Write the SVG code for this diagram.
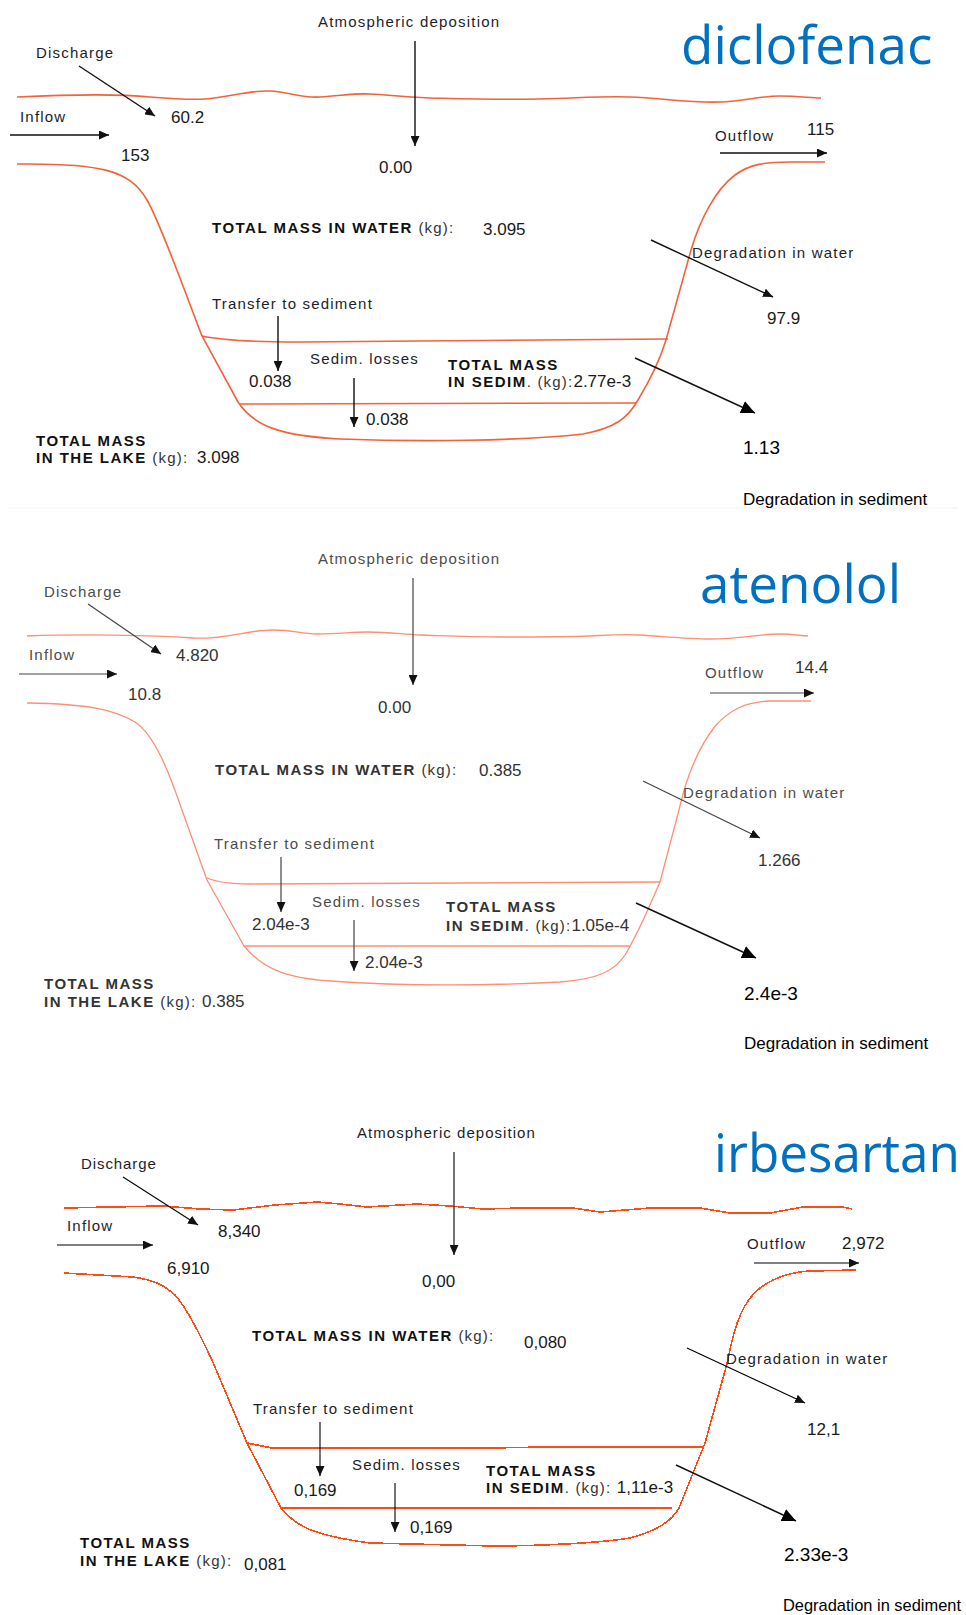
<svg xmlns="http://www.w3.org/2000/svg" width="966" height="1615" viewBox="0 0 966 1615">
<defs>
<style>
text{font-family:"Liberation Sans",Arial,sans-serif;}
.lbl{font-size:15px;letter-spacing:1.2px;fill:#1d1d2b}
.num{font-size:17px;letter-spacing:0;fill:#1a1a1a}
.b{font-weight:bold;font-size:15px;letter-spacing:1.5px;fill:#111}
.u{font-weight:normal;fill:#333;letter-spacing:1.2px}
.n{font-weight:normal;font-size:17px;letter-spacing:0;fill:#1a1a1a}
.big{font-size:19px;letter-spacing:0;fill:#000}
.dsed{font-size:17px;letter-spacing:0;fill:#000}
.title{font-family:"Open Sans","Noto Sans",sans-serif;font-size:53px;fill:#0070C0}
.p2 .lbl{fill:#4c4c4c}
.p2 .b{fill:#333}
.p2 .num,.p2 .n{fill:#333}
.bank{fill:none;stroke:#f4623a;stroke-width:1.6}
.bank2{fill:none;stroke:#ff8e74;stroke-width:1.3}
.bank3{fill:none;stroke:#ff4a12;stroke-width:1.6}
.arr{fill:none;stroke:#111;stroke-width:1.4}
.arr2{fill:none;stroke:#444;stroke-width:1.2}
.arr3{fill:none;stroke:#000;stroke-width:1.1}
</style>
<marker id="ah" markerUnits="userSpaceOnUse" markerWidth="11" markerHeight="9" refX="10" refY="4.5" orient="auto" viewBox="0 0 11 9"><path d="M0,0 L10,4.5 L0,9 z" fill="#111"/></marker>
<marker id="ahL" markerUnits="userSpaceOnUse" markerWidth="15" markerHeight="13" refX="14" refY="6.5" orient="auto" viewBox="0 0 15 13"><path d="M0,0 L14,6.5 L0,13 z" fill="#000"/></marker>
</defs>
<rect width="966" height="1615" fill="#fff"/>
<line x1="8" y1="508" x2="958" y2="508" stroke="#efefef" stroke-width="1"/>

<!-- ===== Panel 1: diclofenac ===== -->
<g id="panel-diclofenac">
<g id="lake1">
<path class="bank" d="M17,97 C60,95 120,94 150,97 C175,99 190,100 205,99 C230,97 250,90 270,91 C290,92 300,98 320,97 C340,96 355,93 370,94 C390,95 400,97 430,98 C470,99 500,100 540,99 C580,98 600,96 630,97 C660,98 690,103 720,102 C745,101 760,96 780,96 C800,96 810,98 821,98"/>
<path class="bank" d="M17,164 C100,163 130,170 147,200 C160,222 185,292 202,336 L238,402 C255,428 285,436 340,439 C420,442 520,441 583,434 C615,428 628,418 638,400 C650,380 660,360 666,340 L691,250 C700,220 715,190 735,175 C750,164 765,162 790,162 L825,162"/>
<path class="bank" d="M202,336 Q230,342 300,342 L668,339"/>
<path class="bank" d="M240,404 L636,403"/>
</g>
<text id="t1-title" class="title" x="681" y="64">diclofenac</text>
<text id="t1-atm" class="lbl" x="318" y="27">Atmospheric deposition</text>
<text id="t1-dis" class="lbl" x="36" y="58">Discharge</text>
<text id="t1-inf" class="lbl" x="20" y="122">Inflow</text>
<text class="num" x="171" y="123">60.2</text>
<text class="num" x="121" y="161">153</text>
<text class="num" x="379" y="173">0.00</text>
<text id="t1-out" class="lbl" x="715" y="141">Outflow</text>
<text class="num" x="807" y="135">115</text>
<text id="t1-water" class="b" x="212" y="233">TOTAL MASS IN WATER <tspan class="u">(kg):</tspan></text>
<text class="num" x="483" y="235">3.095</text>
<text id="t1-dw" class="lbl" x="692" y="258">Degradation in water</text>
<text class="num" x="767" y="324">97.9</text>
<text id="t1-tr" class="lbl" x="212" y="309">Transfer to sediment</text>
<text class="num" x="249" y="387">0.038</text>
<text id="t1-sl" class="lbl" x="310" y="364">Sedim. losses</text>
<text class="num" x="366" y="425">0.038</text>
<text id="t1-sed" class="b" x="448" y="370">TOTAL MASS</text>
<text class="b" x="448" y="387">IN SEDIM<tspan class="u">. (kg):</tspan><tspan class="n">2.77e-3</tspan></text>
<text id="t1-lake" class="b" x="36" y="446">TOTAL MASS</text>
<text class="b" x="36" y="463">IN THE LAKE <tspan class="u">(kg):</tspan></text>
<text class="num" x="197" y="463">3.098</text>
<text class="big" x="743" y="454">1.13</text>
<text id="t1-ds" class="dsed" x="743" y="505">Degradation in sediment</text>
</g>

<!-- ===== Panel 2: atenolol ===== -->
<g id="panel-atenolol" class="p2">
<g id="lake2">
<path class="bank2" d="M27,636 C80,634 150,635 193,638 C225,640 245,630 273,630 C295,630 300,634 317,634 C340,634 350,632 367,632 C390,632 400,634 420,635 C450,636 470,637 500,637 C540,637 560,637 590,636 C610,635 620,634 640,635 C670,637 690,639 710,639 C740,639 760,634 780,634 C795,634 800,636 808,636"/>
<path class="bank2" d="M27,703 C90,704 115,710 135,722 C155,735 170,775 182,810 L207,880 L244,946 C262,968 285,978 330,981 C400,986 480,986 560,982 C600,979 615,970 625,955 C640,930 652,900 660,882 L679,810 C688,770 700,745 716,725 C730,710 745,702 770,701 L811,701"/>
<path class="bank2" d="M207,878 Q222,884 250,884 L660,882"/>
<path class="bank2" d="M244,946 L630,946" stroke="#ff7a5a"/>
</g>
<text id="t2-title" class="title" x="700" y="603">atenolol</text>
<text id="t2-atm" class="lbl" x="318" y="564">Atmospheric deposition</text>
<text id="t2-dis" class="lbl" x="44" y="597">Discharge</text>
<text id="t2-inf" class="lbl" x="29" y="660">Inflow</text>
<text class="num" x="176" y="661">4.820</text>
<text class="num" x="128" y="700">10.8</text>
<text class="num" x="378" y="713">0.00</text>
<text id="t2-out" class="lbl" x="705" y="678">Outflow</text>
<text class="num" x="795" y="673">14.4</text>
<text id="t2-water" class="b" x="215" y="775">TOTAL MASS IN WATER <tspan class="u">(kg):</tspan></text>
<text class="num" x="479" y="776">0.385</text>
<text id="t2-dw" class="lbl" x="683" y="798">Degradation in water</text>
<text class="num" x="758" y="866">1.266</text>
<text id="t2-tr" class="lbl" x="214" y="849">Transfer to sediment</text>
<text class="num" x="252" y="930">2.04e-3</text>
<text id="t2-sl" class="lbl" x="312" y="907">Sedim. losses</text>
<text class="num" x="365" y="968">2.04e-3</text>
<text id="t2-sed" class="b" x="446" y="912">TOTAL MASS</text>
<text class="b" x="446" y="931">IN SEDIM<tspan class="u">. (kg):</tspan><tspan class="n">1.05e-4</tspan></text>
<text id="t2-lake" class="b" x="44" y="989">TOTAL MASS</text>
<text class="b" x="44" y="1007">IN THE LAKE <tspan class="u">(kg):</tspan></text>
<text class="num" x="202" y="1007">0.385</text>
<text class="big" x="744" y="1000">2.4e-3</text>
<text id="t2-ds" class="dsed" x="744" y="1049">Degradation in sediment</text>
</g>

<!-- ===== Panel 3: irbesartan ===== -->
<g id="panel-irbesartan">
<g id="lake3" shape-rendering="crispEdges">
<path class="bank3" d="M64,1208 L110,1207 L163,1206 L200,1209 L233,1210 L275,1205 L317,1202 L340,1204 L367,1207 L417,1204 L450,1206 L483,1209 L523,1208 L573,1208 L600,1212 L650,1208 L700,1208 L730,1213 L770,1213 L803,1207 L843,1207 L852,1209"/>
<path class="bank3" d="M64,1273 L133,1277 C155,1280 165,1286 175,1295 C188,1310 200,1335 212,1360 L247,1443 L281,1508 C295,1525 310,1535 370,1543 L494,1546 C540,1546 600,1543 630,1538 C660,1530 672,1520 679,1508 L705,1443 L728,1360 C735,1320 745,1300 760,1288 C775,1277 790,1272 810,1271 L856,1270"/>
<path class="bank3" d="M247,1443 L272,1448 L490,1448 L545,1447 L704,1447"/>
<path class="bank3" d="M281,1508 L672,1508"/>
</g>
<text id="t3-title" class="title" x="714" y="1172" textLength="246" lengthAdjust="spacingAndGlyphs">irbesartan</text>
<text id="t3-atm" class="lbl" x="357" y="1138" textLength="179">Atmospheric deposition</text>
<text id="t3-dis" class="lbl" x="81" y="1169" textLength="76">Discharge</text>
<text id="t3-inf" class="lbl" x="67" y="1231">Inflow</text>
<text class="num" x="218" y="1237">8,340</text>
<text class="num" x="167" y="1274">6,910</text>
<text class="num" x="422" y="1287">0,00</text>
<text id="t3-out" class="lbl" x="747" y="1249">Outflow</text>
<text class="num" x="842" y="1249">2,972</text>
<text id="t3-water" class="b" x="252" y="1341">TOTAL MASS IN WATER <tspan class="u">(kg):</tspan></text>
<text class="num" x="524" y="1348">0,080</text>
<text id="t3-dw" class="lbl" x="726" y="1364">Degradation in water</text>
<text class="num" x="807" y="1435">12,1</text>
<text id="t3-tr" class="lbl" x="253" y="1414">Transfer to sediment</text>
<text class="num" x="294" y="1496">0,169</text>
<text id="t3-sl" class="lbl" x="352" y="1470">Sedim. losses</text>
<text class="num" x="410" y="1533">0,169</text>
<text id="t3-sed" class="b" x="486" y="1476">TOTAL MASS</text>
<text class="b" x="486" y="1493">IN SEDIM<tspan class="u">. (kg): </tspan><tspan class="n">1,11e-3</tspan></text>
<text id="t3-lake" class="b" x="80" y="1548">TOTAL MASS</text>
<text class="b" x="80" y="1566">IN THE LAKE <tspan class="u">(kg):</tspan></text>
<text class="num" x="244" y="1570">0,081</text>
<text class="big" x="784" y="1561">2.33e-3</text>
<text id="t3-ds" class="dsed" x="783" y="1611" textLength="178" lengthAdjust="spacingAndGlyphs">Degradation in sediment</text>
</g>

<!-- ===== Connectors ===== -->
<g id="connectors">
<line class="arr" x1="79" y1="66" x2="155" y2="116" marker-end="url(#ah)"/>
<line class="arr" x1="10" y1="135" x2="109" y2="135" marker-end="url(#ah)"/>
<line class="arr" x1="415" y1="41" x2="415" y2="146" marker-end="url(#ah)"/>
<line class="arr" x1="720" y1="153" x2="827" y2="153" marker-end="url(#ah)"/>
<line class="arr" x1="651" y1="240" x2="773" y2="297" marker-end="url(#ah)" stroke="#333"/>
<line class="arr" x1="278" y1="316" x2="278" y2="371" marker-end="url(#ah)"/>
<line class="arr" x1="354" y1="378" x2="354" y2="427" marker-end="url(#ah)"/>
<line class="arr" x1="635" y1="358" x2="755" y2="413" marker-end="url(#ahL)" stroke-width="1.6"/>

<line class="arr2" x1="88" y1="604" x2="161" y2="654" marker-end="url(#ah)"/>
<line class="arr2" x1="19" y1="674" x2="117" y2="674" marker-end="url(#ah)"/>
<line class="arr2" x1="413" y1="578" x2="413" y2="685" marker-end="url(#ah)"/>
<line class="arr2" x1="710" y1="693" x2="814" y2="693" marker-end="url(#ah)"/>
<line class="arr2" x1="643" y1="781" x2="760" y2="838" marker-end="url(#ah)" stroke="#666"/>
<line class="arr2" x1="281" y1="857" x2="281" y2="912" marker-end="url(#ah)"/>
<line class="arr2" x1="354" y1="920" x2="354" y2="971" marker-end="url(#ah)"/>
<line class="arr" x1="636" y1="903" x2="756" y2="958" marker-end="url(#ahL)" stroke-width="1.6"/>

<line class="arr3" x1="123" y1="1177" x2="198" y2="1225" marker-end="url(#ah)"/>
<line class="arr3" x1="57" y1="1245" x2="153" y2="1245" marker-end="url(#ah)"/>
<line class="arr3" x1="454" y1="1152" x2="454" y2="1255" marker-end="url(#ah)"/>
<line class="arr3" x1="754" y1="1263" x2="859" y2="1263" marker-end="url(#ah)"/>
<line class="arr3" x1="687" y1="1348" x2="805" y2="1403" marker-end="url(#ah)"/>
<line class="arr3" x1="320" y1="1422" x2="320" y2="1476" marker-end="url(#ah)"/>
<line class="arr3" x1="395" y1="1483" x2="395" y2="1532" marker-end="url(#ah)"/>
<line class="arr" x1="676" y1="1465" x2="796" y2="1521" marker-end="url(#ahL)" stroke-width="1.6"/>
</g>
</svg>
